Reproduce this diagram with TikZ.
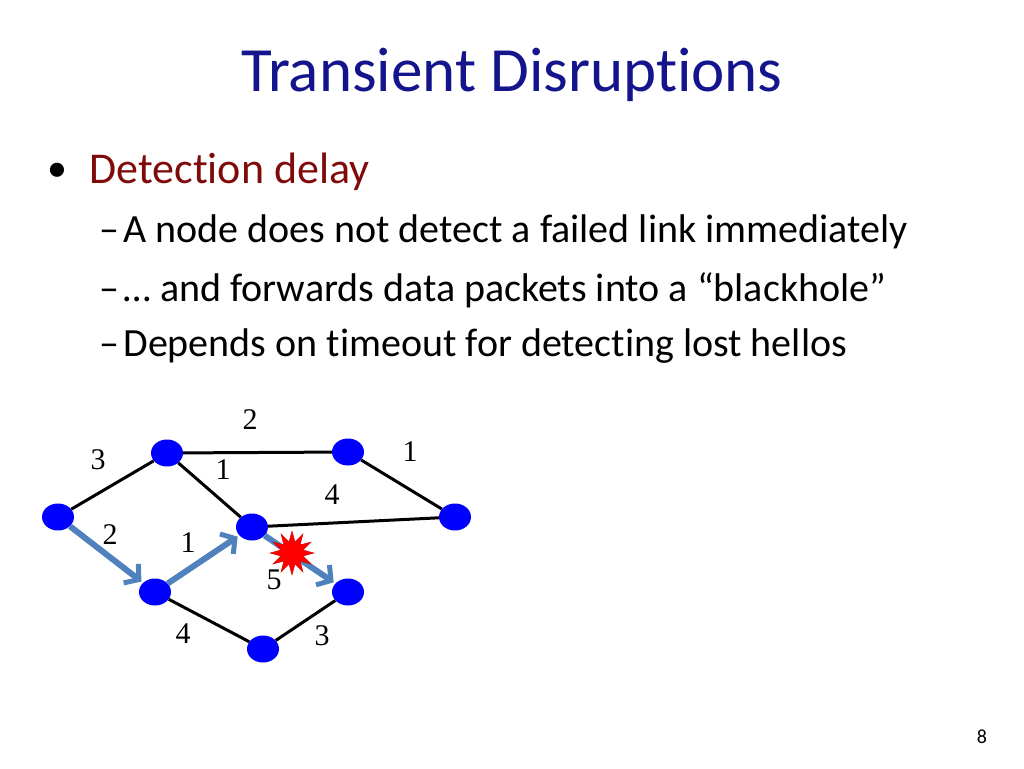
\documentclass[tikz,border=0pt]{standalone}
\usepackage{fontspec}
\setmainfont[RawFeature=-liga]{Carlito}
\newfontfamily\labelfont{Liberation Serif}
\usetikzlibrary{shapes.geometric,arrows.meta}
\definecolor{titleblue}{RGB}{20,20,140}
\definecolor{bulletred}{RGB}{128,10,10}
\definecolor{pathblue}{RGB}{79,129,189}
\tikzset{
  vertex/.style={ellipse,fill=blue,minimum width=32pt,minimum height=27pt,inner sep=0pt},
  link/.style={line width=3pt},
  hop/.style={line width=6pt,pathblue,-{Straight Barb[length=10pt,width=24pt,line width=5pt]},shorten >=2pt},
  cost/.style={font=\labelfont\fontsize{30}{32}\selectfont},
  line/.style={anchor=west,font=\fontsize{40}{44}\selectfont}
}
\begin{document}
\begin{tikzpicture}[x=1pt,y=-1pt]
\useasboundingbox (0,0) rectangle (1024,768);

% title and bullets
\node[titleblue,font=\fontsize{63}{70}\selectfont] (title) at (512,75) {Transient Disruptions};
\node[anchor=west,font=\fontsize{40}{44}\selectfont] (dot) at (44,172) {•};
\node[bulletred,anchor=west,font=\fontsize{44}{48}\selectfont] (head) at (86,172) {Detection delay};
\node[line] (l1) at (96,232) {–\hspace{4pt}A node does not detect a failed link immediately};
\node[line] (l2) at (96,290) {–\hspace{4pt}… and forwards data packets into a “blackhole”};
\node[line] (l3) at (96,346) {–\hspace{4pt}Depends on timeout for detecting lost hellos};
\node[font=\fontsize{20}{22}\selectfont] (page) at (982,737) {8};

% graph
\node[vertex] (a) at (58,517) {};
\node[vertex] (b) at (167,453) {};
\node[vertex] (c) at (348,452) {};
\node[vertex] (d) at (455,517) {};
\node[vertex] (e) at (252,527) {};
\node[vertex] (f) at (155,592) {};
\node[vertex] (g) at (348,592) {};
\node[vertex] (h) at (263,649) {};

\draw[link] (a) -- (b);
\draw[link] (b) -- (c);
\draw[link] (c) -- (d);
\draw[link] (b) -- (e);
\draw[link] (e) -- (d);
\draw[link] (f) -- (h);
\draw[link] (h) -- (g);

\draw[hop] (a) -- (f);
\draw[hop] (f) -- (e);
\draw[hop] (e) -- (g);

\node[star,star points=12,star point ratio=1.9,fill=red,draw=red!80!black,minimum size=44pt,inner sep=0pt] (boom) at (292,553) {};

% link costs
\node[cost] (w1) at (250,420) {2};
\node[cost] (w2) at (98,460) {3};
\node[cost] (w3) at (223,470) {1};
\node[cost] (w4) at (410,452) {1};
\node[cost] (w5) at (332,495) {4};
\node[cost] (w6) at (110,535) {2};
\node[cost] (w7) at (188,543) {1};
\node[cost] (w8) at (274,580) {5};
\node[cost] (w9) at (183,634) {4};
\node[cost] (w10) at (322,636) {3};
\end{tikzpicture}
\end{document}
